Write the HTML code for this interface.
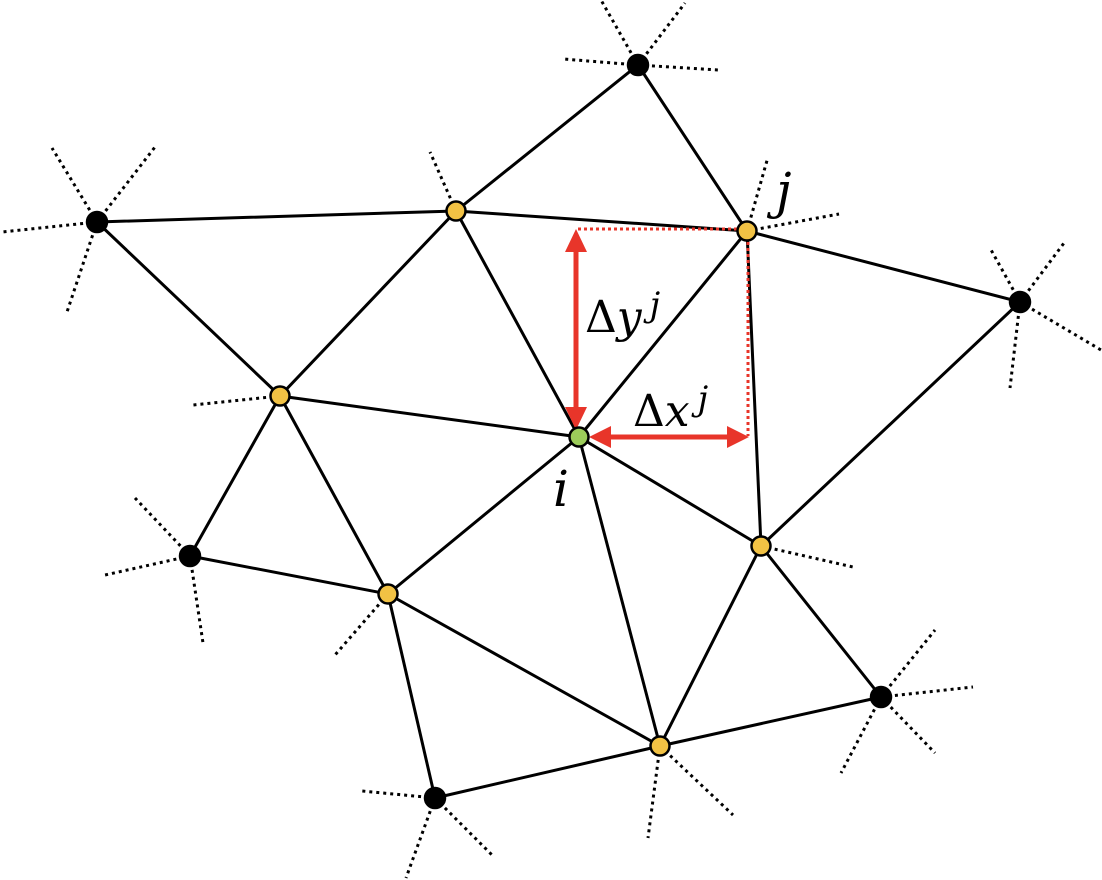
<!DOCTYPE html>
<html><head><style>html,body{margin:0;padding:0;background:#fff;}svg{display:block}</style></head>
<body>
<svg width="1102" height="880" viewBox="0 0 1102 880" xmlns="http://www.w3.org/2000/svg">
<g stroke="#000" stroke-width="3" stroke-dasharray="3,4" fill="none">
<path d="M97,222L52,148M97,222L155,147M97,222L2,232M97,222L67,312"/>
<path d="M638,65L601,0M638,65L685,3M638,65L563,59M638,65L718,70"/>
<path d="M747,231L768,157M747,231L839,214"/>
<path d="M1020,302L990,248M1020,302L1064,243M1020,302L1101,350M1020,302L1010,388"/>
<path d="M456,211L430,152"/>
<path d="M280,396L193,405"/>
<path d="M190,556L135,498M190,556L105,575M190,556L203,643"/>
<path d="M388,594L335,655"/>
<path d="M435,798L362,791M435,798L406,878M435,798L492,855"/>
<path d="M660,746L648,838M660,746L733,815"/>
<path d="M761,546L853,567"/>
<path d="M881,697L935,630M881,697L973,687M881,697L935,753M881,697L841,773"/>
</g>
<g stroke="#000" stroke-width="3" fill="none">
<path d="M638,65L456,211M638,65L747,231M97,222L456,211M97,222L280,396M456,211L747,231M456,211L280,396M456,211L579,437M747,231L579,437M747,231L1020,302M747,231L761,546M1020,302L761,546M280,396L579,437M280,396L190,556M280,396L388,594M190,556L388,594M388,594L579,437M388,594L660,746M388,594L435,798M579,437L660,746M579,437L761,546M761,546L660,746M761,546L881,697M881,697L660,746M660,746L435,798"/>
</g>
<g stroke="#e8352a" stroke-width="3" stroke-dasharray="3,3" fill="none">
<path d="M578,229L745,229M748,236L748,436"/>
</g>
<g stroke="#e8352a" stroke-width="5" fill="#e8352a">
<path d="M576,245L576,414"/>
<path d="M605,437L732,437"/>
</g>
<g fill="#e8352a">
<polygon points="576,229 565,252 587,252"/>
<polygon points="576,430 565,407 587,407"/>
<polygon points="589,437 611,426 611,448"/>
<polygon points="749,437 727,426 727,448"/>
</g>
<g stroke="#000" stroke-width="2.5">
<circle cx="97" cy="222" r="10" fill="#000"/>
<circle cx="638" cy="65" r="10" fill="#000"/>
<circle cx="1020" cy="302" r="10" fill="#000"/>
<circle cx="190" cy="556" r="10" fill="#000"/>
<circle cx="435" cy="798" r="10" fill="#000"/>
<circle cx="881" cy="697" r="10" fill="#000"/>
<circle cx="456" cy="211" r="9.5" fill="#f2c244"/>
<circle cx="747" cy="231" r="9.5" fill="#f2c244"/>
<circle cx="280" cy="396" r="9.5" fill="#f2c244"/>
<circle cx="388" cy="594" r="9.5" fill="#f2c244"/>
<circle cx="761" cy="546" r="9.5" fill="#f2c244"/>
<circle cx="660" cy="746" r="9.5" fill="#f2c244"/>
<circle cx="579" cy="437" r="9.5" fill="#9ccc5a"/>
</g>
<g font-family="DejaVu Serif, serif" fill="#000">
<text x="585" y="332" font-size="44">Δ<tspan font-style="italic">y</tspan><tspan font-style="italic" font-size="34" dy="-16" dx="8">j</tspan></text>
<text x="633" y="426" font-size="44">Δ<tspan font-style="italic">x</tspan><tspan font-style="italic" font-size="34" dy="-16" dx="8">j</tspan></text>
<text x="553" y="506" font-size="50" font-style="italic">i</text>
<text x="776" y="208" font-size="50" font-style="italic">j</text>
</g>
</svg>
</body></html>
